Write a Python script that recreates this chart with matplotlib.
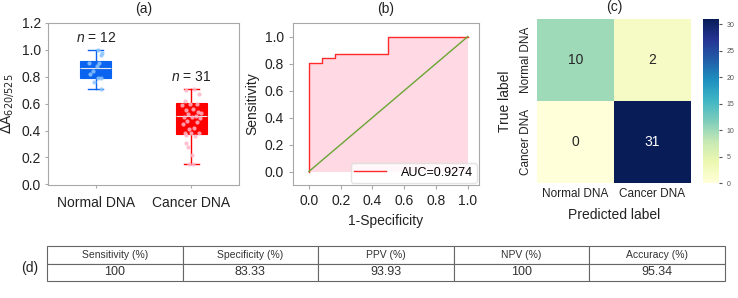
import numpy as np
import matplotlib
matplotlib.use("Agg")
import matplotlib.pyplot as plt
import seaborn as sns

plt.rcParams['font.family'] = ['Liberation Sans', 'DejaVu Sans']
plt.rcParams['mathtext.fontset'] = 'custom'
plt.rcParams['mathtext.rm'] = 'Liberation Sans'
plt.rcParams['mathtext.it'] = 'Liberation Sans:italic'

# ---------------- data ----------------
groups = ["Normal DNA", "Cancer DNA"]
normal_vals = [1.00, 0.98, 0.96, 0.90, 0.90, 0.88, 0.84, 0.82, 0.79, 0.79, 0.76, 0.71]
cancer_vals = [0.71, 0.70, 0.67, 0.62, 0.60, 0.60, 0.59, 0.56, 0.55, 0.54, 0.53,
               0.52, 0.51, 0.50, 0.50, 0.49, 0.47, 0.46, 0.45, 0.42, 0.41, 0.38,
               0.38, 0.38, 0.37, 0.36, 0.31, 0.28, 0.22, 0.15, 0.15]
box_whislo = [0.71, 0.15]
box_q1 = [0.79, 0.375]
box_med = [0.865, 0.505]
box_q3 = [0.92, 0.605]
box_whishi = [1.00, 0.71]
n_labels = ["12", "31"]

roc_fpr = [0.0, 0.0, 0.083, 0.083, 0.167, 0.167, 0.5, 0.5, 1.0]
roc_tpr = [0.0, 0.806, 0.806, 0.839, 0.839, 0.871, 0.871, 1.0, 1.0]
auc_value = "0.9274"

cm_labels = ["Normal DNA", "Cancer DNA"]
cm_values = [[10, 2], [0, 31]]

table_header = ["Sensitivity (%)", "Specificity (%)", "PPV (%)", "NPV (%)", "Accuracy (%)"]
table_values = ["100", "83.33", "93.93", "100", "95.34"]

W, H = 738, 298
fig = plt.figure(figsize=(W / 100, H / 100), dpi=100)

def px_axes(l, t, r, b):
    return fig.add_axes([l / W, 1 - b / H, (r - l) / W, (b - t) / H])

spine_col = "#a8a8a8"
text_col = "#222222"

# ---------------- (a) box plot ----------------
axa = px_axes(48, 23, 239, 185)
stats = []
for i in range(2):
    stats.append(dict(med=box_med[i], q1=box_q1[i], q3=box_q3[i],
                      whislo=box_whislo[i], whishi=box_whishi[i], fliers=[]))
box_cols = ["#0a64f0", "#ff0000"]
pt_cols = ["#8cc4ff", "#ffb6c8"]
for i in range(2):
    axa.bxp([stats[i]], positions=[i], widths=0.32, patch_artist=True,
            showfliers=False, capwidths=0.16,
            boxprops=dict(facecolor=box_cols[i], edgecolor=box_cols[i], linewidth=0.8),
            medianprops=dict(color="#e8e8e8", linewidth=0.8),
            whiskerprops=dict(color=box_cols[i], linewidth=1.0),
            capprops=dict(color=box_cols[i], linewidth=1.0))
jit_n = [0.02, 0.07, 0.05, -0.07, 0.03, 0.01, -0.03, -0.06, 0.06, 0.02, -0.02, 0.05]
jit_c = [0.03, -0.05, 0.08, -0.07, -0.01, 0.06, -0.10, 0.02, -0.06, 0.07, 0.10,
         -0.03, 0.05, -0.08, 0.01, 0.09, -0.04, 0.06, -0.09, 0.03, -0.02, -0.07,
         0.00, 0.08, -0.05, 0.04, -0.06, -0.03, 0.01, -0.02, 0.02]
axa.scatter(np.zeros(len(normal_vals)) + np.array(jit_n), normal_vals, s=9,
            color=pt_cols[0], alpha=0.85, zorder=5, linewidths=0)
axa.scatter(np.ones(len(cancer_vals)) + np.array(jit_c), cancer_vals, s=9,
            color=pt_cols[1], alpha=0.85, zorder=5, linewidths=0)
for i in range(2):
    axa.text(i, box_whishi[i] + 0.09, r"$n$ = " + n_labels[i], ha="center", va="center",
             fontsize=10, color=text_col)
axa.set_xlim(-0.5, 1.5)
axa.set_ylim(-0.005, 1.2)
axa.set_yticks([0.0, 0.2, 0.4, 0.6, 0.8, 1.0, 1.2])
axa.set_yticklabels(["0.0", "0.2", "0.4", "0.6", "0.8", "1.0", "1.2"])
axa.set_xticks([0, 1])
axa.set_xticklabels(groups)
axa.set_ylabel(r"$\Delta\mathregular{A}_{620/525}$", fontsize=10, color=text_col,
               labelpad=4, math_fontfamily="dejavusans")
axa.tick_params(axis="both", labelsize=10, colors=text_col, length=2, color=spine_col, pad=3)
axa.tick_params(axis="x", labelsize=10, pad=6)
for s in axa.spines.values():
    s.set_color(spine_col)
axa.set_title("(a)", fontsize=10, color=text_col, pad=7)

# ---------------- (b) ROC ----------------
axb = px_axes(293, 23, 479, 185)
axb.fill_between(roc_fpr, roc_tpr, 0, color="#ffd9e4", linewidth=0)
axb.plot(roc_fpr, roc_tpr, color="#ff2a2a", linewidth=1.0, label="AUC=" + auc_value)
axb.plot([0, 1], [0, 1], color="#6aa532", linewidth=1.0)
axb.set_xlim(-0.1, 1.07)
axb.set_ylim(-0.1, 1.1)
axb.set_xticks([0, 0.2, 0.4, 0.6, 0.8, 1.0])
axb.set_yticks([0, 0.2, 0.4, 0.6, 0.8, 1.0])
axb.set_xticklabels(["0.0", "0.2", "0.4", "0.6", "0.8", "1.0"])
axb.set_yticklabels(["0.0", "0.2", "0.4", "0.6", "0.8", "1.0"])
axb.set_xlabel("1-Specificity", fontsize=10, color=text_col)
axb.set_ylabel("Sensitivity", fontsize=10, color=text_col)
axb.tick_params(axis="both", labelsize=10, colors=text_col, length=3, color=spine_col)
for s in axb.spines.values():
    s.set_color(spine_col)
leg = axb.legend(loc="lower right", fontsize=9, frameon=True, borderpad=0.3,
                 handlelength=2.5, handletextpad=1.2, borderaxespad=0.2)
leg.get_frame().set_edgecolor("#dddddd")
axb.set_title("(b)", fontsize=10, color=text_col, pad=7)

# ---------------- (c) confusion matrix ----------------
axc = px_axes(537, 19, 691, 183)
axcb = px_axes(703, 19, 719, 183)
sns.heatmap(np.array(cm_values), ax=axc, cbar_ax=axcb, cmap="YlGnBu", vmin=0, vmax=31,
            annot=True, fmt="d", annot_kws=dict(fontsize=10),
            xticklabels=cm_labels, yticklabels=cm_labels)
axc.set_xlabel("Predicted label", fontsize=10, color=text_col, labelpad=6)
axc.set_ylabel("True label", fontsize=10, color=text_col, labelpad=6)
axc.tick_params(axis="both", labelsize=8.5, length=0, colors=text_col)
axc.set_xticklabels(cm_labels, rotation=0, ha="center")
axc.set_yticklabels(cm_labels, rotation=90, va="center")
axc.set_title("(c)", fontsize=10, color=text_col, pad=6)
axcb.tick_params(labelsize=5, length=2, colors="#555555")

# ---------------- (d) table ----------------
axd = px_axes(47, 246, 725, 281)
axd.axis("off")
tbl = axd.table(cellText=[table_header, table_values], cellLoc="center",
                bbox=[0, 0, 1, 1])
tbl.auto_set_font_size(False)
for (r, c), cell in tbl.get_celld().items():
    cell.set_edgecolor("#666666")
    cell.set_linewidth(0.8)
    cell.get_text().set_fontsize(7.5 if r == 0 else 9)
    cell.get_text().set_color("#333333")
fig.text(30 / W, 1 - 268 / H, "(d)", fontsize=10, color=text_col, ha="center", va="center")

fig.savefig("out.png", dpi=100)
